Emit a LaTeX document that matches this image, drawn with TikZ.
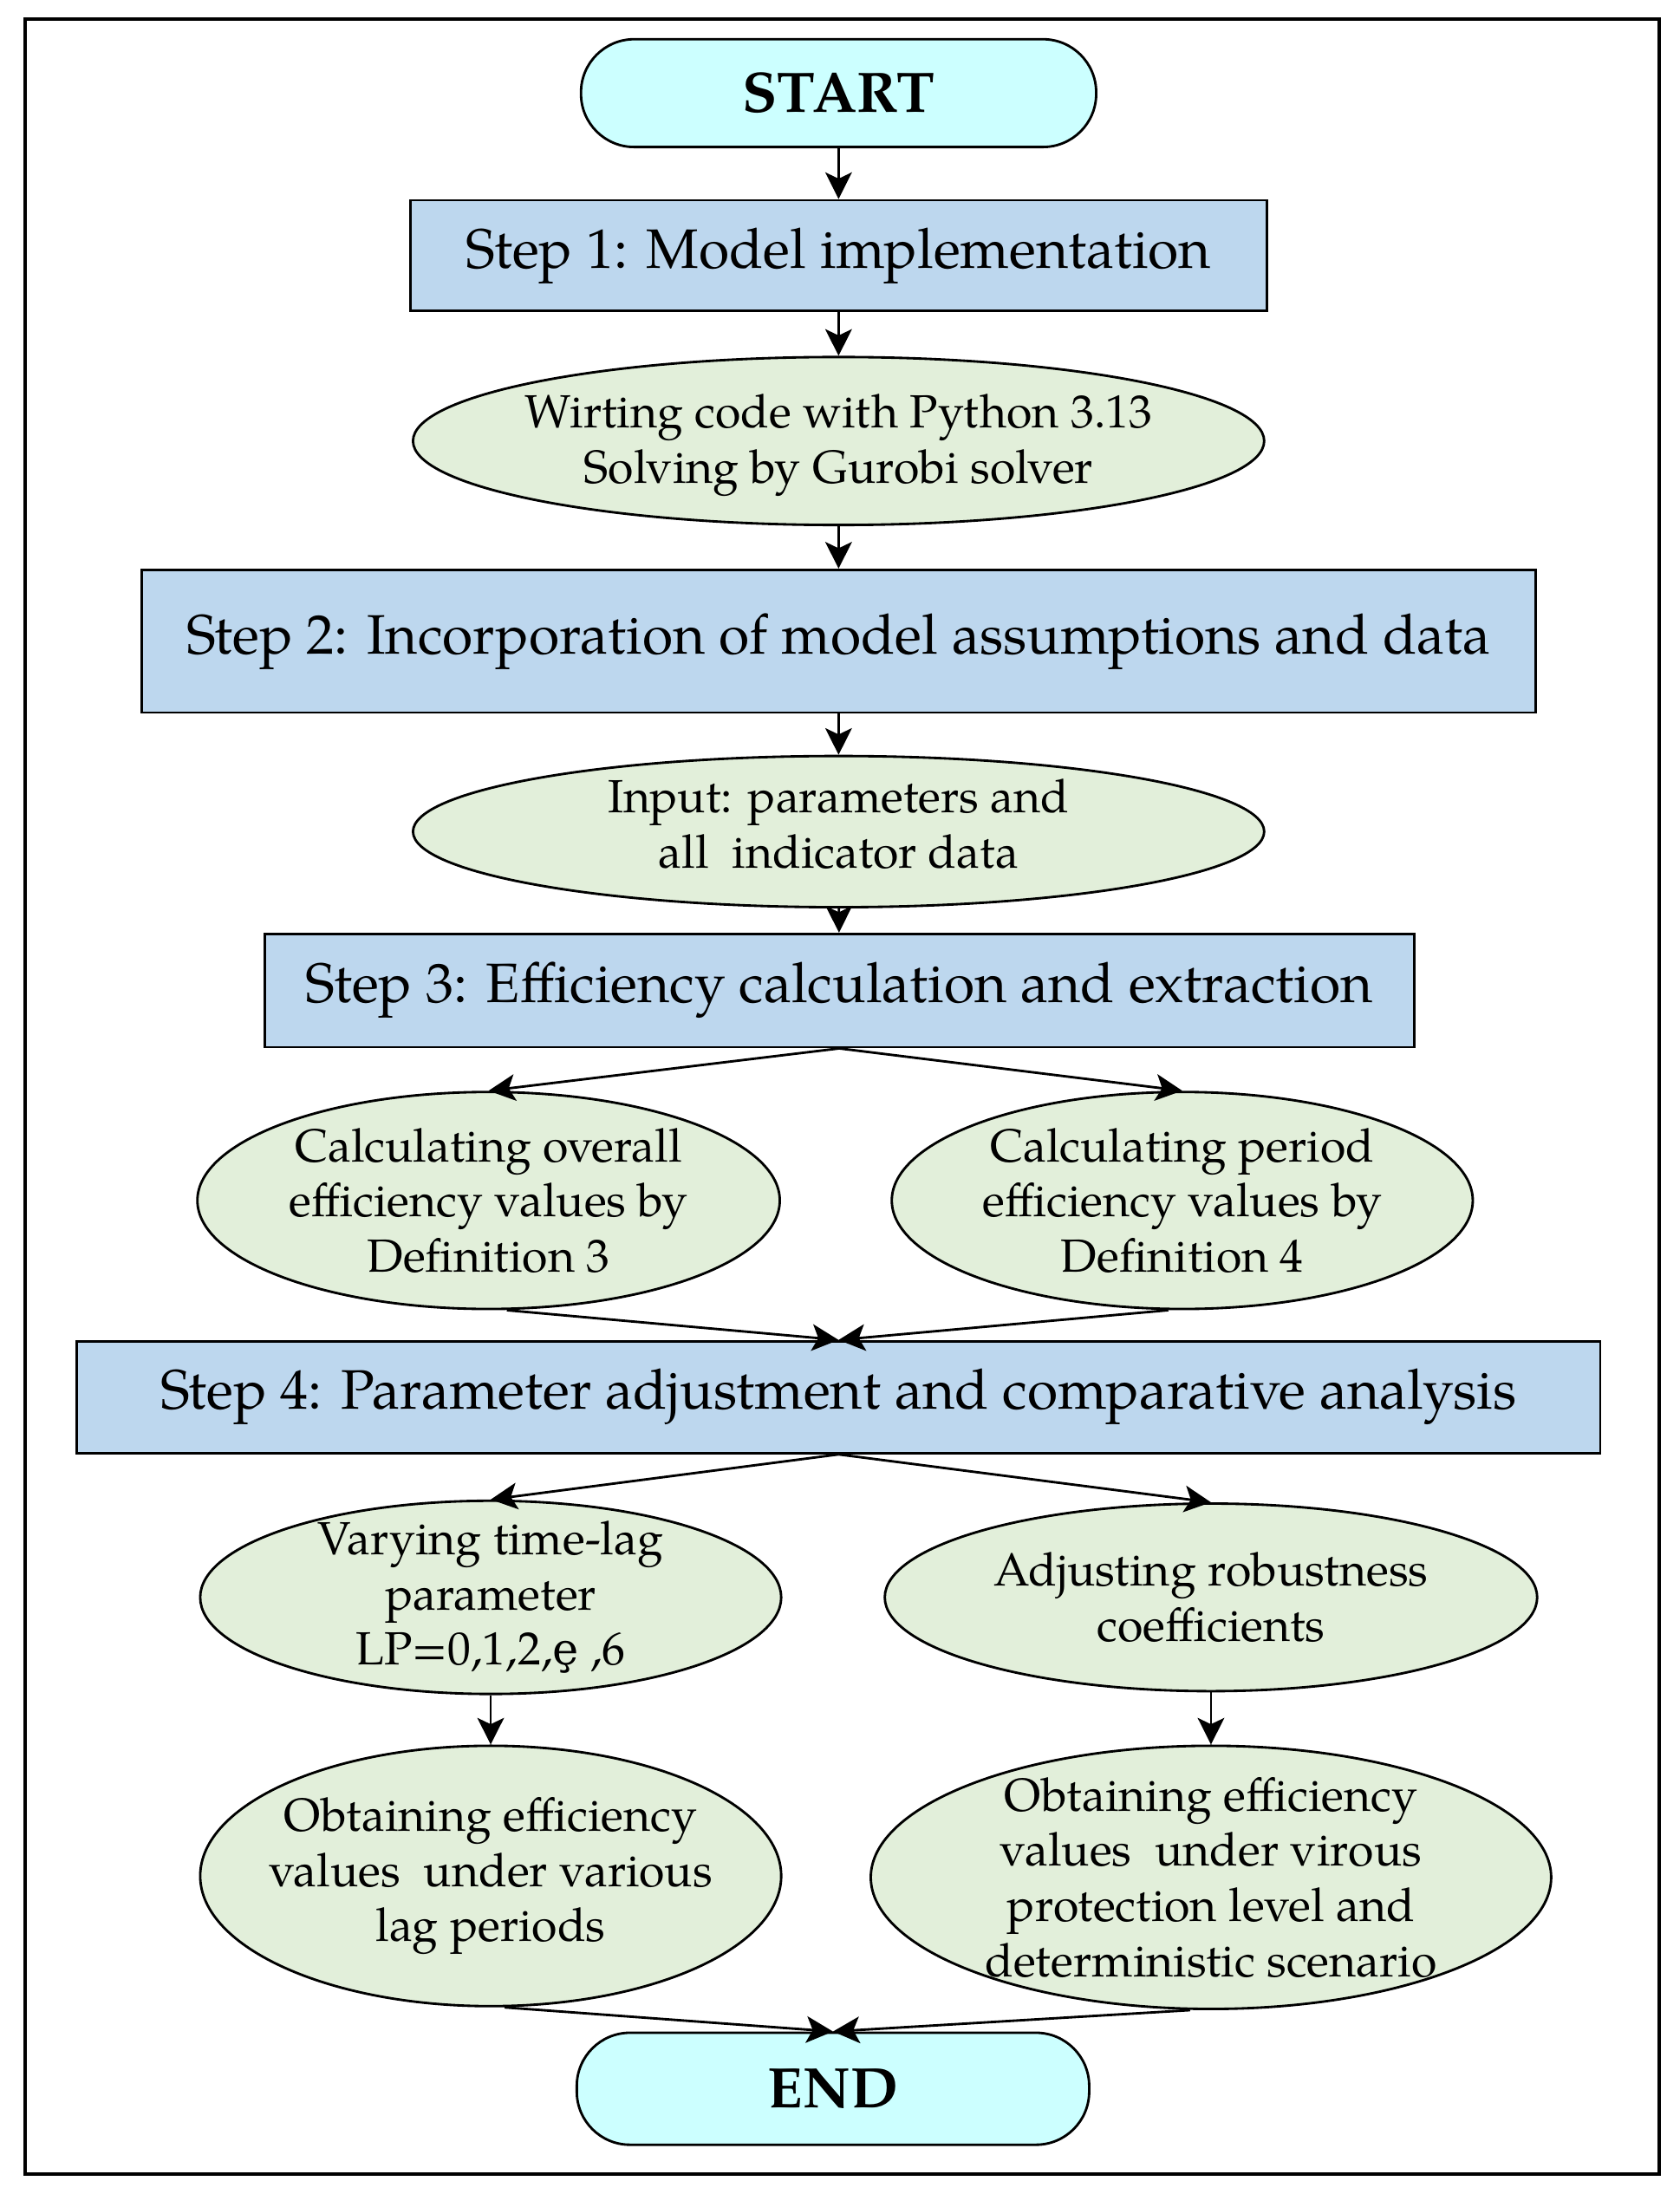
\documentclass[tikz,border=0pt]{standalone}
\usepackage{fontspec}
\setmainfont{TeX Gyre Pagella}
\newfontfamily\dejaserif{DejaVu Serif}
\usetikzlibrary{arrows.meta}
\usetikzlibrary{shapes.geometric}
\tikzset{>={Stealth[length=1.9mm,width=1.9mm,inset=0.45mm]}}
\definecolor{termcyan}{RGB}{204,255,255}
\definecolor{stepblue}{RGB}{189,215,238}
\definecolor{taskgreen}{RGB}{226,239,218}
\tikzset{
    terminal/.style={draw, fill=termcyan, rounded corners=0.38cm, inner sep=0pt,
        font=\fontsize{11.6}{13}\selectfont\bfseries},
    stepbox/.style={draw, fill=stepblue, inner sep=0pt,
        font=\fontsize{11.3}{13}\selectfont},
    task/.style={draw, fill=taskgreen, ellipse, inner sep=0pt},
    tasktext/.style={align=center, inner sep=0pt,
        font=\fontsize{9.45}{11.2}\selectfont},
}

\begin{document}
\begin{tikzpicture}[line width=0.5pt]
    \useasboundingbox (0,0) rectangle (12,-15.672);
    \draw[line width=0.7pt] (0.18,-0.135) rectangle (11.85,-15.53);

    % terminals and steps
    \node[terminal, minimum width=3.68cm, minimum height=0.77cm] (start) at (5.99,-0.665) {START};
    \node[stepbox, minimum width=6.12cm, minimum height=0.79cm] (step1) at (5.99,-1.825) {Step 1: Model implementation};
    \node[stepbox, minimum width=9.96cm, minimum height=1.02cm] (step2) at (5.99,-4.58) {Step 2: Incorporation of model assumptions and data};
    \node[stepbox, minimum width=8.21cm, minimum height=0.81cm] (step3) at (5.995,-7.075) {Step 3: Efficiency calculation and extraction};
    \node[stepbox, minimum width=10.88cm, minimum height=0.80cm] (step4) at (5.99,-9.98) {Step 4: Parameter adjustment and comparative analysis};
    \node[terminal, minimum width=3.66cm, minimum height=0.80cm] (end) at (5.95,-14.92) {END};

    % ellipses
    \node[task, minimum width=6.08cm, minimum height=1.20cm,
        label={[tasktext, yshift=-0.03cm]center:{Wirting code with Python 3.13\\Solving by Gurobi solver}}] (code) at (5.99,-3.15) {};
    \node[task, minimum width=6.08cm, minimum height=1.08cm,
        label={[tasktext, yshift=0.055cm]center:{Input: parameters and\\all~ indicator data}}] (input) at (5.99,-5.94) {};
    \node[task, minimum width=4.16cm, minimum height=1.55cm,
        label={[tasktext]center:{Calculating overall\\efficiency values by\\Definition 3}}] (overall) at (3.49,-8.575) {};
    \node[task, minimum width=4.15cm, minimum height=1.55cm,
        label={[tasktext]center:{Calculating period\\efficiency values by\\Definition 4}}] (period) at (8.445,-8.575) {};
    \node[task, minimum width=4.15cm, minimum height=1.38cm,
        label={[tasktext]center:{Varying time-lag\\parameter\\LP=0,1,2,{\dejaserif\fontsize{9}{11.2}\selectfont ȩ} ,6}}] (lag) at (3.505,-11.41) {};
    \node[task, minimum width=4.66cm, minimum height=1.34cm,
        label={[tasktext]center:{Adjusting robustness\\coefficients}}] (robust) at (8.65,-11.41) {};
    \node[task, minimum width=4.15cm, minimum height=1.86cm,
        label={[tasktext]center:{Obtaining efficiency\\values~ under various\\lag periods}}] (lagres) at (3.505,-13.40) {};
    \node[task, minimum width=4.86cm, minimum height=1.88cm,
        label={[tasktext]center:{Obtaining efficiency\\values~ under virous\\protection level and\\deterministic scenario}}] (robres) at (8.65,-13.41) {};

    % connectors
    \draw[->] (start) -- (step1);
    \draw[->] (step1) -- (code);
    \draw[->] (code) -- (step2);
    \draw[->] (step2) -- (input);
    \draw[->] (input) -- (step3);
    \draw[->] (step3.south) -- (overall.north);
    \draw[->] (step3.south) -- (period.north);
    \draw[->] ([xshift=0.13cm]overall.south) -- (step4.north);
    \draw[->] ([xshift=-0.1cm]period.south) -- (step4.north);
    \draw[->] (step4.south) -- (lag.north);
    \draw[->] (step4.south) -- (robust.north);
    \draw[->] (lag) -- (lagres);
    \draw[->] (robust) -- (robres);
    \draw[->] ([xshift=0.1cm]lagres.south) -- (end.north);
    \draw[->] ([xshift=-0.15cm]robres.south) -- (end.north);
\end{tikzpicture}
\end{document}
